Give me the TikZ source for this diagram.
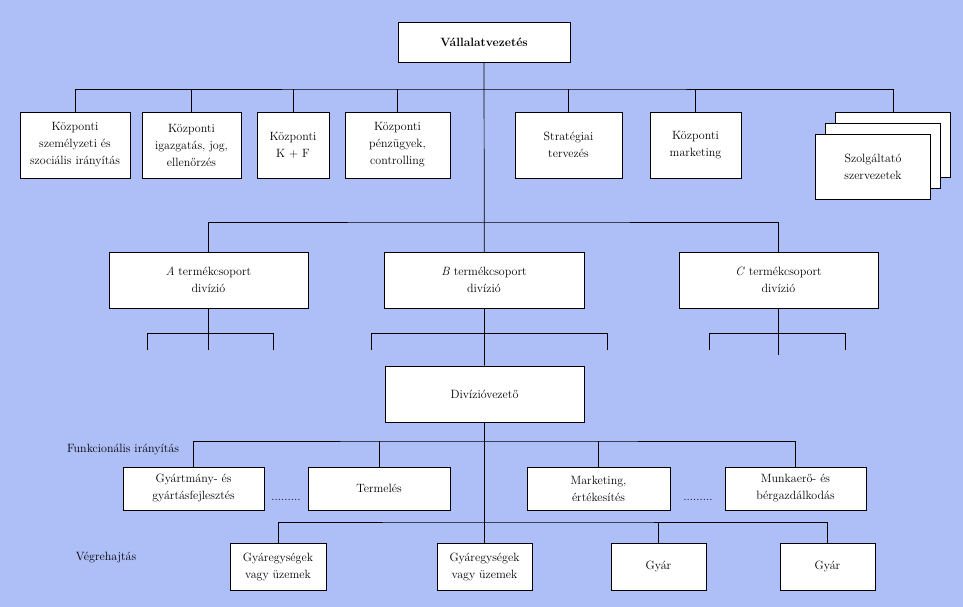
\documentclass[tikz,border=0pt]{standalone}
\usetikzlibrary{backgrounds}
\definecolor{bg}{HTML}{AEBFF7}
\begin{document}
\begin{tikzpicture}[x=1pt,y=-1pt,
  box/.style={draw,fill=white,line width=0.8pt,align=center,inner sep=1pt,font=\fontsize{12}{17}\selectfont},
  conn/.style={line width=0.7pt},
  lbl/.style={font=\fontsize{12}{14}\selectfont}]
\useasboundingbox (0,0) rectangle (963,607);
\node[box,minimum width=172,minimum height=40,font=\fontsize{12}{17}\selectfont\bfseries] (top) at (484,42) {Vállalatvezetés};
\node[box,minimum width=110,minimum height=66] (b1) at (75,145) {Központi\\személyzeti és\\szociális irányítás};
\node[box,minimum width=99,minimum height=66] (b2) at (191.5,145) {Központi\\igazgatás, jog,\\ellenőrzés};
\node[box,minimum width=72,minimum height=66] (b3) at (293,145) {Központi\\K + F};
\node[box,minimum width=105,minimum height=66] (b4) at (397.5,145) {Központi\\pénzügyek,\\controlling};
\node[box,minimum width=107,minimum height=66] (b5) at (568.5,145) {Stratégiai\\tervezés};
\node[box,minimum width=91,minimum height=66] (b6) at (695.5,145) {Központi\\marketing};
\node[box,minimum width=115,minimum height=65] (s3) at (893,145) {};
\node[box,minimum width=115,minimum height=65] (s2) at (883,156) {};
\node[box,minimum width=115,minimum height=65] (s1) at (873,167) {Szolgáltató\\szervezetek};
\node[box,minimum width=199,minimum height=56] (A) at (208.5,280) {\textit{A} termékcsoport\\divízió};
\node[box,minimum width=200,minimum height=56] (B) at (484,280) {\textit{B} termékcsoport\\divízió};
\node[box,minimum width=199,minimum height=56] (C) at (778.5,280) {\textit{C} termékcsoport\\divízió};
\node[box,minimum width=199,minimum height=56] (D) at (484.5,394) {Divízióvezető};
\node[box,minimum width=141,minimum height=43] (f1) at (193.5,488.5) {Gyártmány- és\\gyártásfejlesztés};
\node[box,minimum width=142,minimum height=43] (f2) at (379,488.5) {Termelés};
\node[box,minimum width=143,minimum height=43] (f3) at (598.5,488.5) {Marketing,\\értékesítés};
\node[box,minimum width=141,minimum height=43] (f4) at (795.5,488.5) {Munkaerő- és\\bérgazdálkodás};
\node[box,minimum width=96,minimum height=47] (g1) at (278,566.5) {Gyáregységek\\vagy üzemek};
\node[box,minimum width=95,minimum height=47] (g2) at (484.5,566.5) {Gyáregységek\\vagy üzemek};
\node[box,minimum width=95,minimum height=47] (g3) at (658.5,566.5) {Gyár};
\node[box,minimum width=95,minimum height=47] (g4) at (827.5,566.5) {Gyár};
\node[lbl] (lf) at (123,450) {Funkcionális irányítás};
\node[lbl] (lv) at (106,558) {Végrehajtás};
\node[lbl] (d1) at (286,500) {.........};
\node[lbl] (d2) at (698,500) {.........};
\begin{scope}[on background layer]
\fill[bg] (0,0) rectangle (963,607);
\coordinate (bar1) at (484,89);
\coordinate (bar2) at (484,222);
\coordinate (bar3) at (484,441);
\coordinate (bar4) at (484,522);
\draw[conn] (top.south) -- (D.north);
\draw[conn] (b1.north) |- (bar1) -| (s3.north);
\foreach \n in {b2,b3,b4,b5,b6} \draw[conn] (\n.north) -- (\n.north |- bar1);
\draw[conn] (A.north) |- (bar2) -| (C.north);
\draw[conn] (A.south) -- ++(0,42);
\draw[conn] (147,350) -- (147,333) -- (273,333) -- (273,350);
\draw[conn] (371,350) -- (371,333) -- (607,333) -- (607,350);
\draw[conn] (C.south) -- ++(0,47);
\draw[conn] (709,350) -- (709,333) -- (845,333) -- (845,350);
\draw[conn] (D.south) -- (g2.north);
\draw[conn] (f1.north) |- (bar3) -| (f4.north);
\foreach \n in {f2,f3} \draw[conn] (\n.north) -- (\n.north |- bar3);
\draw[conn] (g1.north) |- (bar4) -| (g4.north);
\draw[conn] (g3.north) -- (g3.north |- bar4);
\end{scope}
\end{tikzpicture}
\end{document}
